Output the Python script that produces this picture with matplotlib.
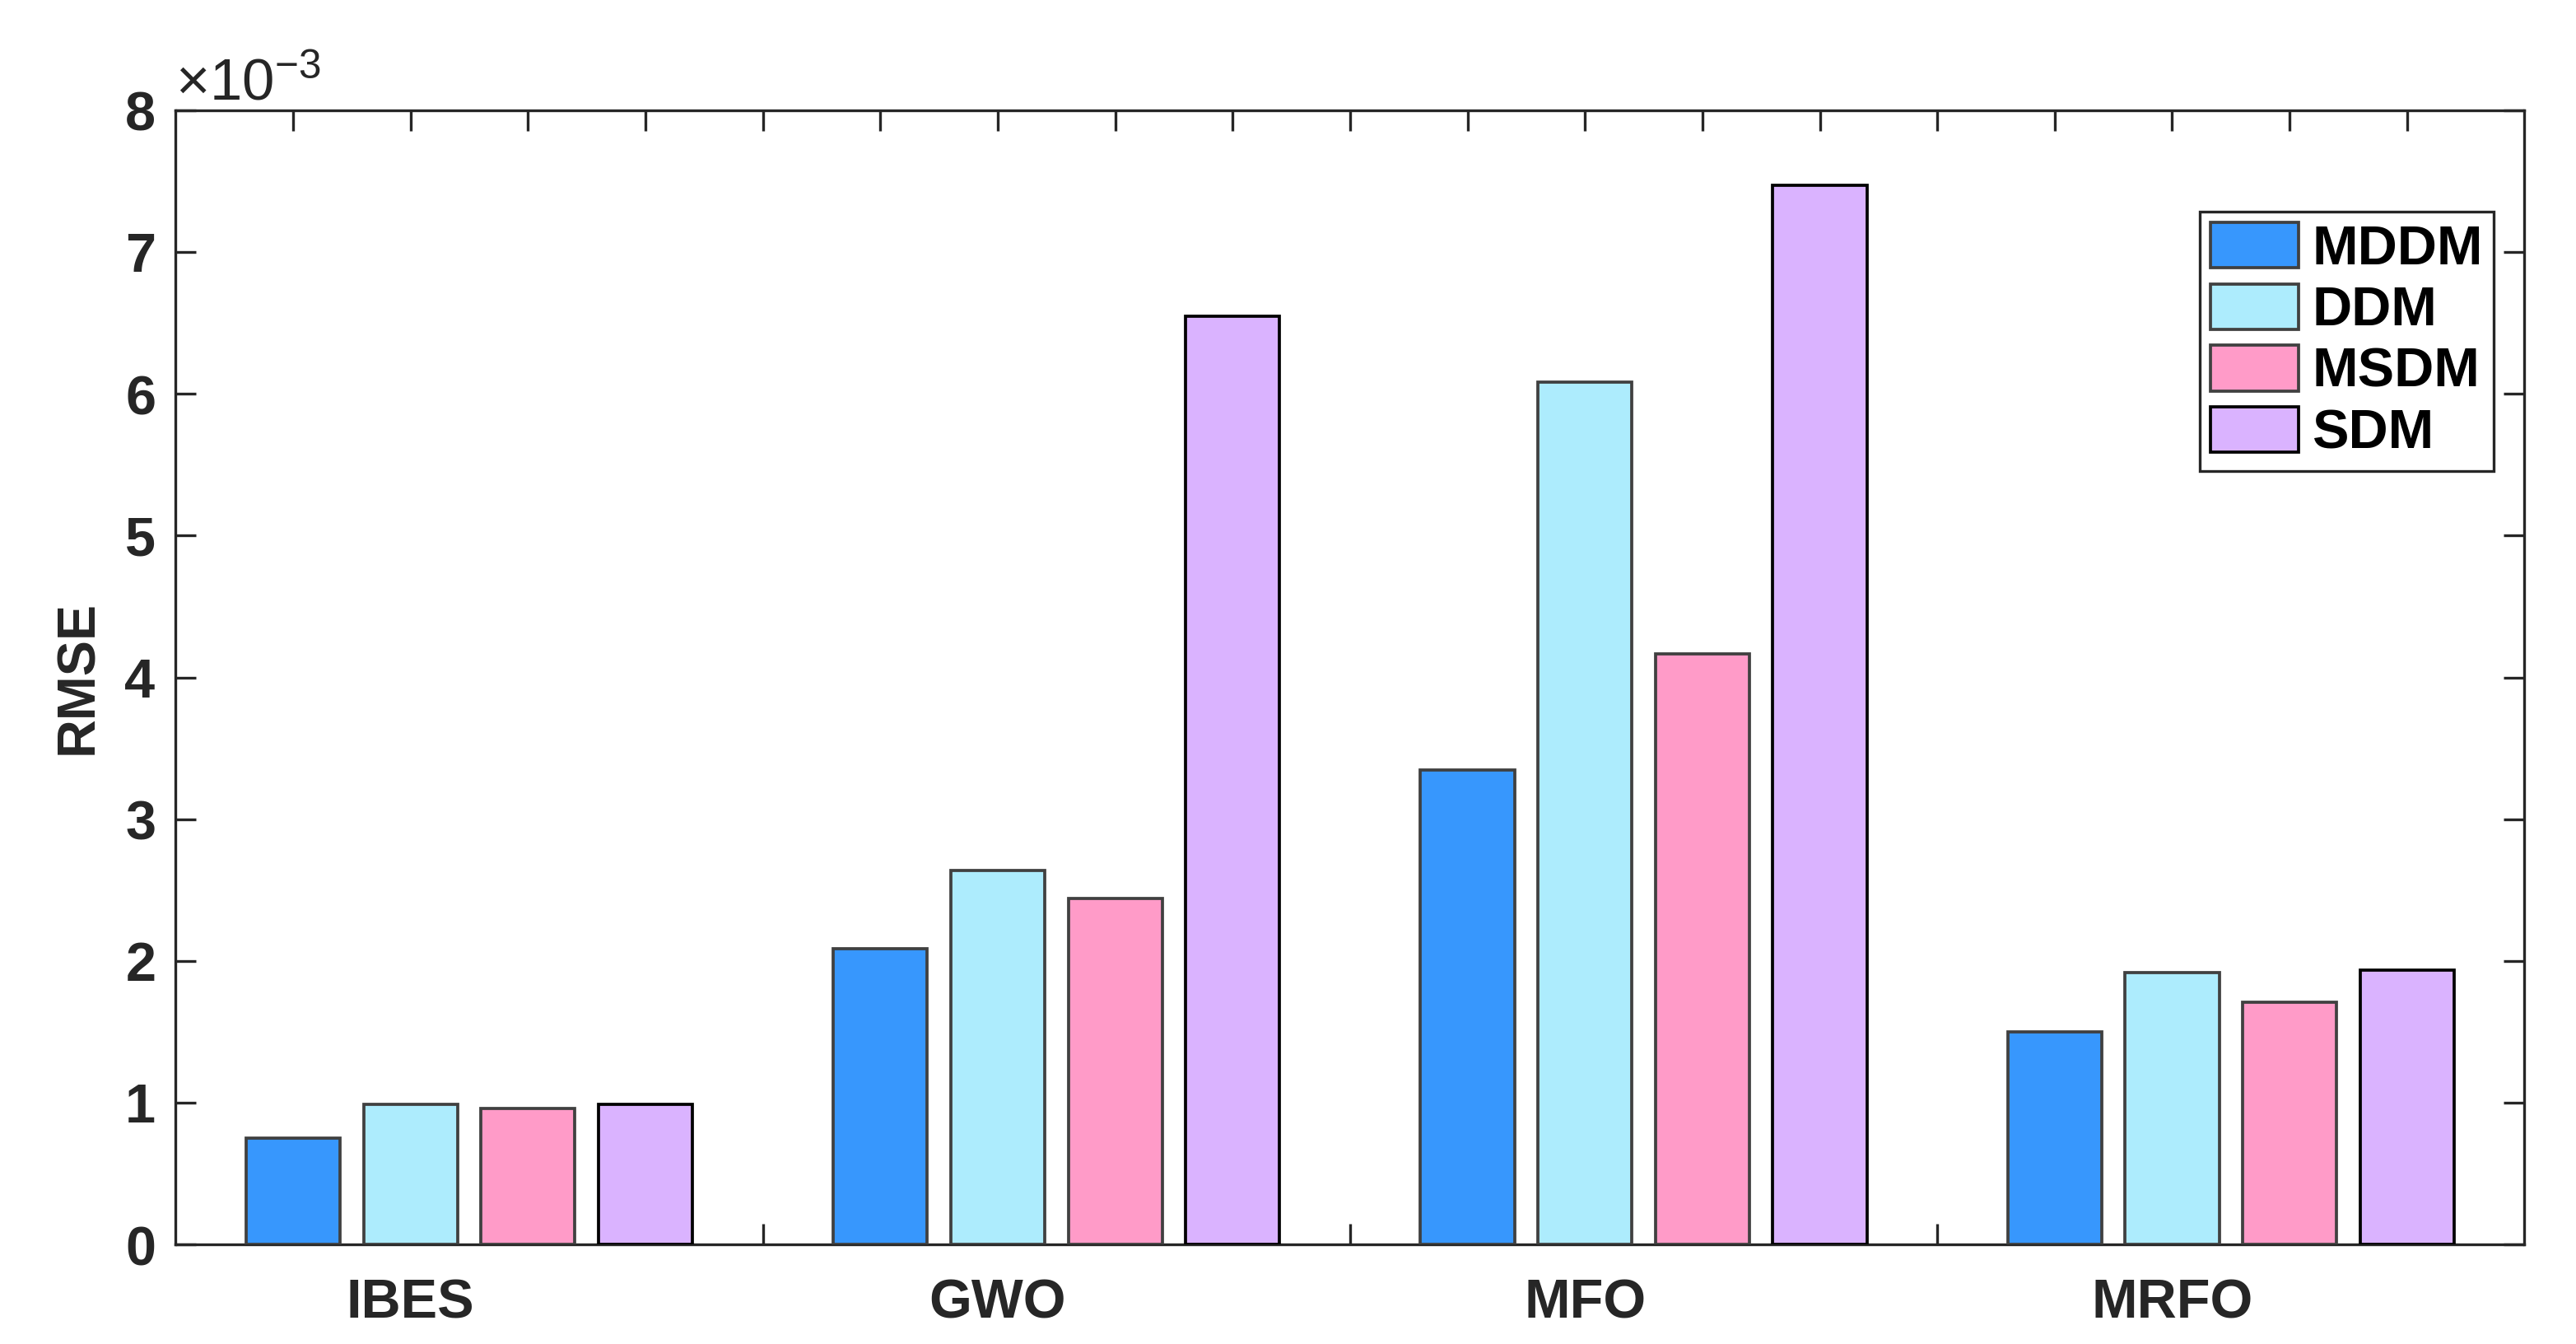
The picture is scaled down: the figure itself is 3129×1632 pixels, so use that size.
import numpy as np
import matplotlib
matplotlib.use("Agg")
import matplotlib.pyplot as plt
from matplotlib.ticker import ScalarFormatter

# RMSE values per algorithm
algorithms = ["IBES", "GWO", "MFO", "MRFO"]
models = ["MDDM", "DDM", "MSDM", "SDM"]
rmse_mddm = [0.751e-3, 2.086e-3, 3.349e-3, 1.500e-3]
rmse_ddm = [0.988e-3, 2.638e-3, 6.084e-3, 1.919e-3]
rmse_msdm = [0.959e-3, 2.440e-3, 4.168e-3, 1.710e-3]
rmse_sdm = [0.988e-3, 6.550e-3, 7.470e-3, 1.937e-3]

colors = ["#3797fd", "#adecfd", "#ff9bc8", "#dab3ff"]
edges = ["#404040", "#404040", "#404040", "#000000"]

plt.rcParams["font.family"] = ["Liberation Sans", "DejaVu Sans"]
plt.rcParams["mathtext.fontset"] = "custom"
plt.rcParams["mathtext.rm"] = "Liberation Sans"
axis_col = "#262626"

fig = plt.figure(figsize=(3129 / 300, 1632 / 300), dpi=300)
ax = fig.add_axes([0.0682, 0.0741, 0.9118, 0.8438])

series = [rmse_mddm, rmse_ddm, rmse_msdm, rmse_sdm]
n_models = len(models)
slot = n_models + 1  # one empty slot between groups
for j, (vals, name) in enumerate(zip(series, models)):
    x = np.arange(len(algorithms)) * slot + j + 1
    ax.bar(x, vals, width=0.8, color=colors[j], edgecolor=edges[j],
           linewidth=0.9, label=name, zorder=3)

ax.set_xlim(0, len(algorithms) * slot)
ax.set_ylim(0, 8e-3)
ax.set_yticks(np.arange(0, 9) * 1e-3)

xt = np.arange(1, len(algorithms) * slot)
labels = [""] * len(xt)
for i, name in enumerate(algorithms):
    labels[i * slot + 1] = name  # label under second bar of each group
ax.set_xticks(xt)
ax.set_xticklabels(labels)

fmt = ScalarFormatter(useMathText=True)
fmt.set_powerlimits((-2, 2))
ax.yaxis.set_major_formatter(fmt)
ax.yaxis.get_offset_text().set_fontsize(17)
ax.yaxis.get_offset_text().set_color(axis_col)

ax.tick_params(axis="both", direction="in", length=6, width=0.8, colors=axis_col,
               labelsize=16, top=True, right=True)
ax.tick_params(axis="x", pad=10)
ax.tick_params(axis="y", pad=6)
for lab in ax.get_xticklabels() + ax.get_yticklabels():
    lab.set_fontweight("bold")
for sp in ax.spines.values():
    sp.set_color(axis_col)
    sp.set_linewidth(0.8)

ax.set_ylabel("RMSE", fontsize=15.5, fontweight="bold", color=axis_col, labelpad=6)

leg = ax.legend(loc="upper right", bbox_to_anchor=(0.987, 0.911), borderaxespad=0,
                fancybox=False, edgecolor=axis_col, framealpha=1,
                prop={"size": 16, "weight": "bold"}, handlelength=1.6,
                handleheight=0.9, labelspacing=0.15, handletextpad=0.25,
                borderpad=0.2)
leg.get_frame().set_linewidth(0.8)
for t in leg.get_texts():
    t.set_color("black")

fig.savefig("out.png", dpi=300)
